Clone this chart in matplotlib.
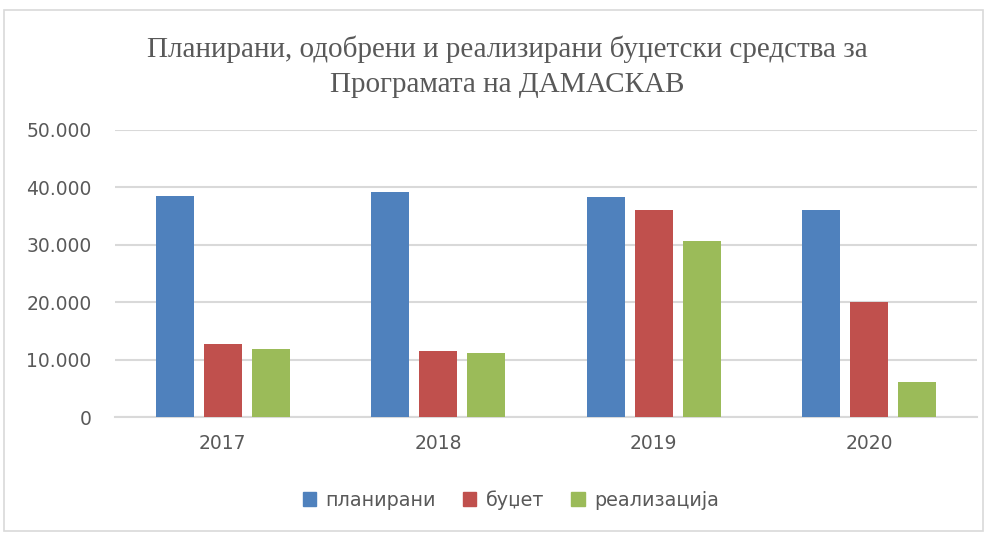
import matplotlib.pyplot as plt
import matplotlib.patches as mpatches
import numpy as np
from matplotlib.ticker import FuncFormatter

years = ['2017', '2018', '2019', '2020']
planirani = [38500, 39200, 38300, 36100]
budzet = [12800, 11500, 36000, 20000]
realizacija = [11900, 11200, 30700, 6100]

series_names = ['планирани', 'буџет', 'реализација']
colors = ['#4F81BD', '#C0504D', '#9BBB59']
text_color = '#595959'

plt.rcParams['font.family'] = ['DejaVu Sans']

fig = plt.figure(figsize=(9.94, 5.33), dpi=100)
ax = fig.add_axes([0.1157, 0.2176, 0.8673, 0.5385])

x = np.arange(len(years))
step = 0.223
width = 0.176
for i, (vals, name, c) in enumerate(zip([planirani, budzet, realizacija], series_names, colors)):
    ax.bar(x + (i - 1) * step, vals, width=width, color=c, label=name, zorder=3)

ax.set_xlim(-0.5, len(years) - 0.5)
ax.set_ylim(0, 50000)
ax.set_yticks(range(0, 50001, 10000))
ax.yaxis.set_major_formatter(FuncFormatter(lambda v, p: f'{int(v):,}'.replace(',', '.')))
ax.set_xticks(x)
ax.set_xticklabels(years)

ax.grid(axis='y', color='#D9D9D9', linewidth=1.5, zorder=0)
for s in ['top', 'right', 'left']:
    ax.spines[s].set_visible(False)
ax.spines['bottom'].set_color('#D9D9D9')
ax.spines['bottom'].set_linewidth(1.5)
ax.tick_params(axis='both', length=0, labelsize=13.5, labelcolor=text_color)
ax.tick_params(axis='y', pad=17)
ax.tick_params(axis='x', pad=12)

fig.text(0.51, 0.875, 'Планирани, одобрени и реализирани буџетски средства за\nПрограмата на ДАМАСКАВ',
         ha='center', va='center', fontsize=21, family='Liberation Serif',
         color=text_color, linespacing=1.45)

handles = [mpatches.Patch(color=c, label=n) for c, n in zip(colors, series_names)]
fig.legend(handles=handles, loc='center', bbox_to_anchor=(0.514, 0.062), ncol=3,
           frameon=False, fontsize=13.8, labelcolor=text_color,
           handlelength=0.7, handleheight=0.7, handletextpad=0.5, columnspacing=1.4)

fig.add_artist(mpatches.Rectangle((0.004, 0.004), 0.985, 0.978, transform=fig.transFigure,
                                  fill=False, edgecolor='#D9D9D9', linewidth=1.2))

fig.savefig('out.png', dpi=100)
